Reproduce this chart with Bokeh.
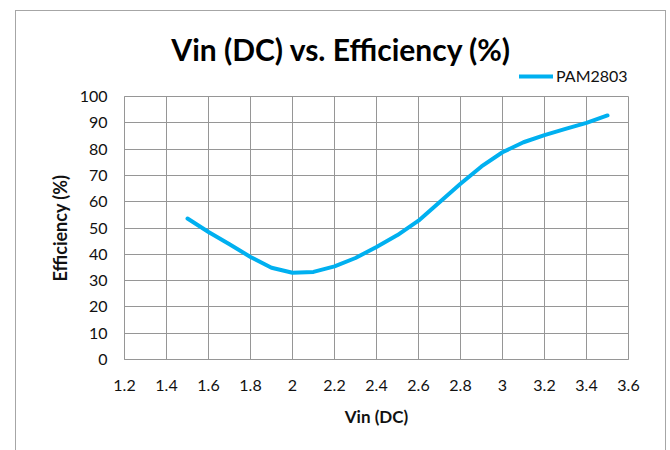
from bokeh.plotting import figure
from bokeh.layouts import column
from bokeh.models import FixedTicker, Range1d, Legend, LegendItem, Label
from bokeh.embed import file_html
from bokeh.resources import INLINE

# ---- data ----
vin = [1.5, 1.6, 1.7, 1.8, 1.9, 2.0, 2.1, 2.2, 2.3, 2.4, 2.5,
       2.6, 2.7, 2.8, 2.9, 3.0, 3.1, 3.2, 3.3, 3.4, 3.5]
efficiency = [53.6, 48.5, 43.8, 39.0, 34.9, 33.0, 33.3, 35.4, 38.6, 42.8, 47.3,
              52.8, 59.8, 66.8, 73.4, 78.8, 82.6, 85.3, 87.7, 90.0, 92.8]
series_name = "PAM2803"
x_ticks = [1.2, 1.4, 1.6, 1.8, 2.0, 2.2, 2.4, 2.6, 2.8, 3.0, 3.2, 3.4, 3.6]
x_tick_labels = ["1.2", "1.4", "1.6", "1.8", "2", "2.2", "2.4", "2.6", "2.8", "3", "3.2", "3.4", "3.6"]
y_ticks = [0, 10, 20, 30, 40, 50, 60, 70, 80, 90, 100]
title_text = "Vin (DC) vs. Efficiency (%)"
x_title = "Vin (DC)"
y_title = "Efficiency (%)"

GRID = "#969696"
FONT = "Lato"
LINE = "#00b0f0"
W = 649
BL, BR = 108, 37
H_TOP, H_MAIN = 75, 364

x_range = Range1d(x_ticks[0], x_ticks[-1])

# ---------- header: title + legend (frame aligned with the chart's) ----------
top = figure(width=W, height=H_TOP, output_backend="svg", toolbar_location=None,
             title_location=None, x_axis_type=None, y_axis_type=None,
             x_range=x_range, y_range=Range1d(0, H_TOP),
             min_border_left=BL, min_border_right=BR, min_border_top=0, min_border_bottom=0)
top.outline_line_color = None
top.background_fill_color = "white"
top.border_fill_color = "white"

top.add_layout(Label(x=2.233, y=38, text=title_text, text_align="center",
                     text_baseline="middle", text_font=FONT, text_font_size="30px",
                     text_font_style="bold", text_color="#000000"))

r_key = top.line(vin, efficiency, line_color=LINE, line_width=4,
                 line_join="round", line_cap="round", visible=False)
legend = Legend(items=[LegendItem(label=series_name, renderers=[r_key])],
                location=(395, 1), glyph_width=34, glyph_height=12,
                label_height=12, label_standoff=3, padding=0, margin=0, spacing=0,
                border_line_color=None, background_fill_alpha=0,
                inactive_fill_alpha=0,
                label_text_font=FONT, label_text_font_size="16px",
                label_text_color="#111111")
top.add_layout(legend)

# ---------- main chart ----------
p = figure(width=W, height=H_MAIN, output_backend="svg", toolbar_location=None,
           title_location=None,
           x_range=x_range, y_range=Range1d(0, 100),
           min_border_left=BL, min_border_right=BR, min_border_top=10, min_border_bottom=91)
p.background_fill_color = "white"
p.border_fill_color = "white"
p.outline_line_color = GRID
p.outline_line_width = 1

for ax in (p.xaxis, p.yaxis):
    ax.axis_line_color = GRID
    ax.major_tick_line_color = None
    ax.minor_tick_line_color = None
    ax.major_tick_out = 0
    ax.major_tick_in = 0
    ax.major_label_text_font = FONT
    ax.major_label_text_font_size = "16px"
    ax.major_label_text_color = "#111111"
    ax.axis_label_text_font = FONT
    ax.axis_label_text_font_style = "bold"
    ax.axis_label_text_color = "#111111"

p.xaxis.ticker = FixedTicker(ticks=x_ticks)
p.xaxis.major_label_overrides = dict(zip(x_ticks, x_tick_labels))
p.yaxis.ticker = FixedTicker(ticks=y_ticks)
p.xaxis.axis_label = x_title
p.yaxis.axis_label = y_title
p.xaxis.axis_label_text_font_size = "17px"
p.yaxis.axis_label_text_font_size = "18px"
p.xaxis.major_label_standoff = 20
p.yaxis.major_label_standoff = 17
p.xaxis.axis_label_standoff = 12
p.yaxis.axis_label_standoff = 6

p.xgrid.ticker = FixedTicker(ticks=x_ticks)
p.ygrid.ticker = FixedTicker(ticks=y_ticks)
for g in (p.xgrid, p.ygrid):
    g.grid_line_color = GRID
    g.grid_line_width = 1

p.line(vin, efficiency, line_color=LINE, line_width=4,
       line_join="round", line_cap="round")

layout = column(top, p, spacing=0)
layout.styles = {"margin-left": "15px", "margin-top": "10px",
                 "border": "1px solid #a6a6a6", "border-bottom": "none"}

open("out.html", "w").write(file_html(layout, INLINE))
